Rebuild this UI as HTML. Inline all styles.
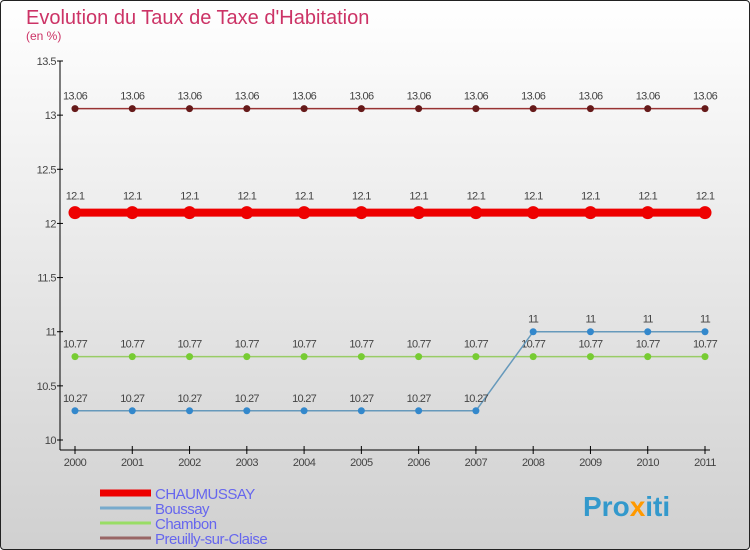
<!DOCTYPE html>
<html><head><meta charset="utf-8"><style>
html,body{margin:0;padding:0}
body{width:750px;height:550px;overflow:hidden;font-family:"Liberation Sans",sans-serif}
#wrap{position:absolute;left:0;top:0;width:748px;height:548px;border:1px solid #222;border-radius:4px;background:linear-gradient(#ffffff 0%,#ececec 40%,#d0d0d0 100%)}
</style></head><body>
<div id="wrap">
<svg id="chart" width="750" height="550" xmlns="http://www.w3.org/2000/svg" style="position:absolute;left:-1px;top:-1px">
<text x="26" y="24" font-size="20" fill="#cc3366">Evolution du Taux de Taxe d'Habitation</text>
<text x="26" y="40" font-size="12" fill="#cc3366">(en %)</text>
<g id="axes"></g><g id="series"></g><g id="legend"></g>
<text x="583" y="516" font-size="28" font-weight="bold" fill="#3399cc">Pro<tspan fill="#ff9900">x</tspan>iti</text>
</svg></div>
<script>
const years=[2000,2001,2002,2003,2004,2005,2006,2007,2008,2009,2010,2011];
const yTicks=[10,10.5,11,11.5,12,12.5,13,13.5];
const names=["CHAUMUSSAY","Boussay","Chambon","Preuilly-sur-Claise"];
const chaumussay=[12.1,12.1,12.1,12.1,12.1,12.1,12.1,12.1,12.1,12.1,12.1,12.1];
const boussay=[10.27,10.27,10.27,10.27,10.27,10.27,10.27,10.27,11,11,11,11];
const chambon=[10.77,10.77,10.77,10.77,10.77,10.77,10.77,10.77,10.77,10.77,10.77,10.77];
const preuilly=[13.06,13.06,13.06,13.06,13.06,13.06,13.06,13.06,13.06,13.06,13.06,13.06];
const NS="http://www.w3.org/2000/svg";
const x=i=>75+i*(705-75)/(years.length-1);
const y=v=>440-(v-10)*(440-61)/3.5;
function mk(tag,attrs,parent,txt){const e=document.createElementNS(NS,tag);for(const k in attrs)e.setAttribute(k,attrs[k]);if(txt!==undefined)e.textContent=txt;parent.appendChild(e);return e;}
const axes=document.getElementById('axes');
let e=mk('line',{x1:60,y1:61,x2:60,y2:450,stroke:'#000'},axes);

e=mk('line',{x1:60,y1:450,x2:710,y2:450,stroke:'#000'},axes);

yTicks.forEach(v=>{
 mk('line',{x1:57,y1:y(v),x2:63,y2:y(v),stroke:'#000'},axes);
 const t=mk('text',{x:56,y:y(v)+4,'font-size':11,'text-anchor':'end',fill:'#444','letter-spacing':'-0.5'},axes,String(v));
 
});
years.forEach((yr,i)=>{
 mk('line',{x1:x(i),y1:446,x2:x(i),y2:454,stroke:'#000'},axes);
 const t=mk('text',{x:x(i),y:466,'font-size':11,'text-anchor':'middle',fill:'#444','letter-spacing':'-0.5'},axes,String(yr));
 
});
const ser=document.getElementById('series');
const defs=[
 {d:preuilly,c:'#993333',w:1.5,r:3.5,pc:'#661a1a',n:'preuilly'},
 {d:chambon,c:'#99cc66',w:1.5,r:3.5,pc:'#77cc33',n:'chambon'},
 {d:boussay,c:'#6699bb',w:1.5,r:3.5,pc:'#3388cc',n:'boussay'},
 {d:chaumussay,c:'#ee0000',w:8,r:6.5,pc:'#ee0000',n:'chaumussay'}];
defs.forEach(s=>{
 const g=mk('g',{},ser);
 
 const p=mk('polyline',{points:s.d.map((v,i)=>x(i)+','+y(v)).join(' '),fill:'none',stroke:s.c,'stroke-width':s.w},g);
 
 s.d.forEach((v,i)=>{
  const c=mk('circle',{cx:x(i),cy:y(v),r:s.r,fill:s.pc},g);
  
  const t=mk('text',{x:x(i),y:y(v)-(s.w>4?13:9),'font-size':11,'text-anchor':'middle',fill:'#444','letter-spacing':'-0.7'},g,String(v));
  
 });
});
const leg=document.getElementById('legend');
const lc=['#ee0000','#77aacc','#99dd66','#996666'],lw=[7,3,3,3];
names.forEach((n,i)=>{
 const yy=493+i*15;
 const g=mk('g',{},leg);
 
 mk('line',{x1:100,y1:yy,x2:151,y2:yy,stroke:lc[i],'stroke-width':lw[i]},g);
 mk('text',{x:155,y:yy+6,'font-size':15,fill:'#6666ee','letter-spacing':'-0.5'},g,n);
});
</script>
</body></html>
